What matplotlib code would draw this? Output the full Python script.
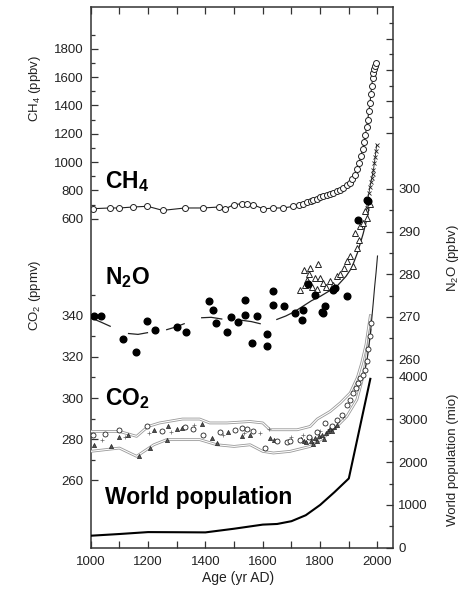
import numpy as np
import matplotlib.pyplot as plt
from matplotlib.ticker import FixedLocator, FuncFormatter

plt.rcParams['font.family'] = 'Liberation Sans'
plt.rcParams['mathtext.fontset'] = 'custom'
plt.rcParams['mathtext.rm'] = 'Liberation Sans'
plt.rcParams['mathtext.bf'] = 'Liberation Sans:bold'
plt.rcParams['mathtext.default'] = 'rm'

nan = np.nan

# CH4 (ppbv), open circles + line
ch4_years = [1008, 1066, 1100, 1149, 1198, 1251, 1329, 1391, 1449, 1469, 1498, 1527, 1544, 1567,
             1602, 1637, 1672, 1707, 1725, 1741, 1755, 1768, 1776, 1790, 1800, 1811, 1825, 1835,
             1846, 1858, 1870, 1881, 1893, 1904, 1912, 1920, 1928, 1935, 1942, 1948, 1953, 1958,
             1962, 1966, 1970, 1974, 1977, 1980, 1983, 1986, 1989, 1992, 1995]
ch4_vals = [671, 676, 676, 683, 688, 659, 676, 676, 683, 669, 699, 706, 706, 699,
            669, 676, 676, 688, 695, 706, 715, 725, 730, 740, 750, 758, 770, 775,
            782, 795, 805, 817, 835, 855, 880, 910, 950, 990, 1040, 1090, 1140, 1190,
            1250, 1300, 1360, 1420, 1480, 1540, 1590, 1630, 1660, 1680, 1700]

# N2O (ppbv)
n2o_dot_years = [1010, 1037, 1114, 1159, 1198, 1225, 1302, 1332, 1412, 1426, 1436, 1474, 1490,
                 1515, 1538, 1538, 1562, 1579, 1614, 1614, 1635, 1635, 1675, 1713, 1739, 1738,
                 1759, 1782, 1805, 1809, 1817, 1846, 1852, 1893, 1933, 1962, 1968]
n2o_dot = [270.1, 270.1, 264.7, 261.8, 269.1, 267.0, 267.6, 266.4, 273.8, 271.7, 268.6, 266.4, 269.9,
           268.8, 273.9, 270.5, 263.9, 270.1, 265.9, 263.1, 276.0, 272.7, 272.5, 270.9, 271.7, 269.2,
           277.8, 275.2, 271.2, 270.9, 272.5, 276.4, 276.8, 274.8, 292.8, 297.3, 297.1]
n2o_tri_years = [1730, 1742, 1748, 1753, 1760, 1765, 1772, 1782, 1788, 1794, 1800, 1811, 1822,
                 1835, 1846, 1858, 1870, 1882, 1895, 1904, 1916, 1922, 1928, 1935, 1939, 1951,
                 1956, 1964, 1974]
n2o_tri = [276.4, 281.1, 277.5, 278.7, 280.0, 281.5, 277.0, 279.1, 276.5, 282.3, 279.0, 278.0, 277.0,
           278.5, 277.5, 279.5, 280.0, 281.5, 283.0, 284.2, 282.0, 289.7, 286.2, 288.0, 291.2, 292.0,
           294.8, 293.2, 296.5]
n2o_x_years = [1962, 1966, 1970, 1974, 1977, 1980, 1983, 1986, 1989, 1992, 1995, 1997]
n2o_x = [295.5, 297.5, 299.0, 300.5, 301.5, 302.5, 303.5, 304.5, 306.0, 307.5, 309.0, 310.4]
n2o_fit_years = [1000, 1035, 1068, nan, 1132, 1165, 1198, nan, 1265, 1295, 1326, nan,
                 1387, 1420, 1457, nan, 1527, 1560, 1591, nan, 1649, 1680, 1710, 1740,
                 1770, 1800, 1830, 1860, 1890, 1910, 1930, 1950, 1965, 1975]
n2o_fit = [269.8, 268.8, 267.8, nan, 266.1, 265.9, 266.3, nan, 267.0, 267.6, 268.4, nan,
           269.8, 269.9, 269.5, nan, 269.2, 268.9, 268.4, nan, 269.4, 270.2, 271.2, 272.5,
           273.8, 274.8, 276.0, 277.3, 279.5, 281.5, 285.0, 289.5, 293.5, 297.5]

# CO2 (ppmv)
co2_circ_years = [1008, 1051, 1100, 1198, 1250, 1329, 1358, 1391, 1451, 1503, 1527, 1544, 1567,
                  1608, 1649, 1684, 1695, 1730, 1760, 1790, 1817, 1840, 1858, 1875, 1893, 1905,
                  1916, 1925, 1933, 1940, 1948, 1955, 1962, 1968, 1973, 1978]
co2_circ = [282.2, 282.7, 284.6, 286.2, 283.8, 285.8, 285.0, 282.2, 283.5, 284.3, 285.4, 285.0, 283.8,
            275.7, 278.9, 278.5, 279.0, 279.5, 281.0, 283.5, 287.9, 286.5, 289.5, 292.0, 296.8, 299.0,
            302.5, 305.0, 307.3, 309.5, 311.0, 313.5, 318.0, 324.0, 330.0, 336.5]
co2_tri_years = [1010, 1070, 1100, 1130, 1170, 1207, 1222, 1265, 1268, 1300, 1320, 1387, 1422,
                 1440, 1480, 1527, 1555, 1625, 1640, 1735, 1745, 1752, 1760, 1768, 1775, 1782,
                 1790, 1797, 1805, 1812, 1820, 1828, 1835, 1842, 1850, 1860]
co2_tri = [277.3, 276.9, 281.1, 282.2, 272.0, 275.7, 284.3, 279.4, 286.2, 285.0, 285.5, 287.5, 280.6,
           278.2, 283.5, 281.4, 282.0, 280.6, 279.5, 280.0, 279.0, 278.5, 281.0, 279.0, 277.8, 280.5,
           279.0, 281.5, 282.0, 280.0, 283.0, 284.0, 285.0, 284.0, 286.0, 287.0]
co2_plus_years = [1040, 1120, 1205, 1280, 1360, 1460, 1535, 1590, 1620, 1700, 1740, 1770, 1800,
                  1830, 1880]
co2_plus = [279.5, 281.0, 283.0, 283.5, 287.0, 282.0, 283.0, 283.0, 285.0, 281.0, 282.0, 280.0,
            284.0, 285.0, 291.0]
co2_up_years = [1000, 1100, 1160, 1200, 1240, 1320, 1380, 1415, 1475, 1555, 1600, 1625, 1670,
                1720, 1765, 1790, 1835, 1870, 1905, 1930, 1945, 1960, 1975]
co2_up = [283.8, 283.8, 281.4, 286.2, 287.9, 289.8, 289.8, 287.9, 287.9, 288.6, 287.9, 284.6, 284.6,
          284.6, 286.2, 289.8, 293.5, 297.6, 302.5, 310.0, 317.0, 326.0, 340.0]
co2_lo_years = [1000, 1100, 1160, 1220, 1265, 1380, 1440, 1500, 1556, 1600, 1637, 1695, 1765,
                1810, 1858, 1893, 1928, 1945, 1960, 1975]
co2_lo = [274.1, 275.7, 271.7, 277.3, 279.8, 279.8, 277.3, 276.5, 277.3, 274.1, 273.3, 274.1, 276.5,
          280.6, 286.2, 291.1, 299.2, 308.0, 318.0, 333.0]
co2_ml_years = [1958, 1965, 1970, 1975, 1980, 1985, 1990, 1995, 2000]
co2_ml = [315.0, 320.0, 325.5, 331.0, 338.5, 346.0, 354.0, 361.0, 369.0]

# World population (mio)
pop_years = [1000, 1100, 1200, 1300, 1400, 1500, 1600, 1650, 1700, 1750, 1800, 1850, 1900, 1975]
pop = [280, 320, 365, 362, 358, 444, 540, 555, 620, 760, 1000, 1300, 1620, 3950]

fig = plt.figure(figsize=(4.62, 5.9), dpi=100)
ax = fig.add_axes([0.1963, 0.0717, 0.6537, 0.9169])
ax_co2 = ax.twinx()
ax_n2o = ax.twinx()
ax_pop = ax.twinx()

ink = '#222222'

# CH4
ax.plot(ch4_years, ch4_vals, color=ink, lw=0.8, marker='o', ms=4.3, mfc='white', mec=ink, mew=0.7)
ax.set_ylim(-1721, 2096)

# N2O
ax_n2o.plot(n2o_fit_years, n2o_fit, color=ink, lw=0.9)
ax_n2o.plot(n2o_x_years, n2o_x, color=ink, lw=0.6, marker='x', ms=3, mew=0.6)
ax_n2o.plot(n2o_tri_years, n2o_tri, ls='none', marker='^', ms=5, mfc='white', mec=ink, mew=0.7)
ax_n2o.plot(n2o_dot_years, n2o_dot, ls='none', marker='o', ms=4.8, color='black')
ax_n2o.set_ylim(215.9, 342.7)

# CO2
for yrs, vals in [(co2_up_years, co2_up), (co2_lo_years, co2_lo)]:
    ax_co2.plot(yrs, vals, color='#999999', lw=2.0)
    ax_co2.plot(yrs, vals, color='white', lw=0.8)
ax_co2.plot(co2_ml_years, co2_ml, color=ink, lw=0.8)
ax_co2.plot(co2_plus_years, co2_plus, ls='none', marker='+', ms=3.5, mew=0.5, color='#666666')
ax_co2.plot(co2_tri_years, co2_tri, ls='none', marker='^', ms=3, mfc='#555555', mec=ink, mew=0.5)
ax_co2.plot(co2_circ_years, co2_circ, ls='none', marker='o', ms=3.6, mfc='white', mec=ink, mew=0.6)
ax_co2.set_ylim(227.3, 490.1)

# population
ax_pop.plot(pop_years, pop, color='black', lw=1.5)
ax_pop.set_ylim(0, 12655)

ax.set_xlim(1000, 2053)

# spines / ticks
for a in (ax_co2, ax_n2o, ax_pop):
    for s in a.spines.values():
        s.set_visible(False)
for s in ax.spines.values():
    s.set_color('#333333')
    s.set_linewidth(1.1)

tick_kw = dict(direction='in', colors='#333333', labelsize=9.5, labelcolor='#222222', width=0.9)
ax.xaxis.set_major_locator(FixedLocator(range(1000, 2001, 200)))
ax.xaxis.set_minor_locator(FixedLocator(range(1100, 2000, 200)))
ax.tick_params(axis='x', which='both', top=True, bottom=True, length=5, pad=6, **tick_kw)

ax.yaxis.set_major_locator(FixedLocator(range(600, 1801, 200)))
ax.yaxis.set_minor_locator(FixedLocator(range(700, 1901, 200)))
ax.tick_params(axis='y', which='major', left=True, right=False, length=5, pad=5, **tick_kw)
ax.tick_params(axis='y', which='minor', left=True, right=False, length=3, **tick_kw)

ax_co2.yaxis.tick_left()
ax_co2.yaxis.set_major_locator(FixedLocator(range(260, 341, 20)))
ax_co2.yaxis.set_minor_locator(FixedLocator(range(270, 351, 20)))
ax_co2.tick_params(axis='y', which='major', length=5, pad=5, **tick_kw)
ax_co2.tick_params(axis='y', which='minor', length=3, **tick_kw)

n2o_major = [260, 270, 280, 290, 300, 313.1, 320.5, 327.9, 335.1]
n2o_minor = [265, 275, 285, 295, 316.9, 324.2, 331.6, 338.9]
ax_n2o.yaxis.set_major_locator(FixedLocator(n2o_major))
ax_n2o.yaxis.set_minor_locator(FixedLocator(n2o_minor))
ax_n2o.yaxis.set_major_formatter(FuncFormatter(lambda v, p: f'{v:.0f}' if v <= 300.5 else ''))
ax_n2o.tick_params(axis='y', which='major', length=5, pad=4, **tick_kw)
ax_n2o.tick_params(axis='y', which='minor', length=3, **tick_kw)

ax_pop.yaxis.set_major_locator(FixedLocator(range(0, 4001, 1000)))
ax_pop.yaxis.set_minor_locator(FixedLocator(range(500, 4000, 1000)))
ax_pop.tick_params(axis='y', which='major', length=5, pad=4, **tick_kw)
ax_pop.tick_params(axis='y', which='minor', length=3, **tick_kw)

# big labels
big = dict(fontsize=16.5, transform=ax.transAxes, ha='left', va='center', color='black')
ax.text(0.047, 0.6765, r'$\mathbf{CH_4}$', **big)
ax.text(0.047, 0.499, r'$\mathbf{N_2O}$', **big)
ax.text(0.047, 0.2754, r'$\mathbf{CO_2}$', **big)
ax.text(0.047, 0.0924, 'World population', fontweight='bold', **big)

# axis titles
lab = dict(fontsize=9.5, color='#222222', rotation=90, ha='center', va='center')
fig.text(35 / 462, 1 - 88 / 590, 'CH$_4$ (ppbv)', **lab)
fig.text(35 / 462, 1 - 295 / 590, 'CO$_2$ (ppmv)', **lab)
fig.text(453 / 462, 1 - 258 / 590, 'N$_2$O (ppbv)', **lab)
fig.text(453 / 462, 1 - 460 / 590, 'World population (mio)', **lab)
fig.text(238 / 462, 1 - 578 / 590, 'Age (yr AD)', fontsize=10, color='#222222', ha='center', va='center')

fig.savefig('out.png', dpi=100)
